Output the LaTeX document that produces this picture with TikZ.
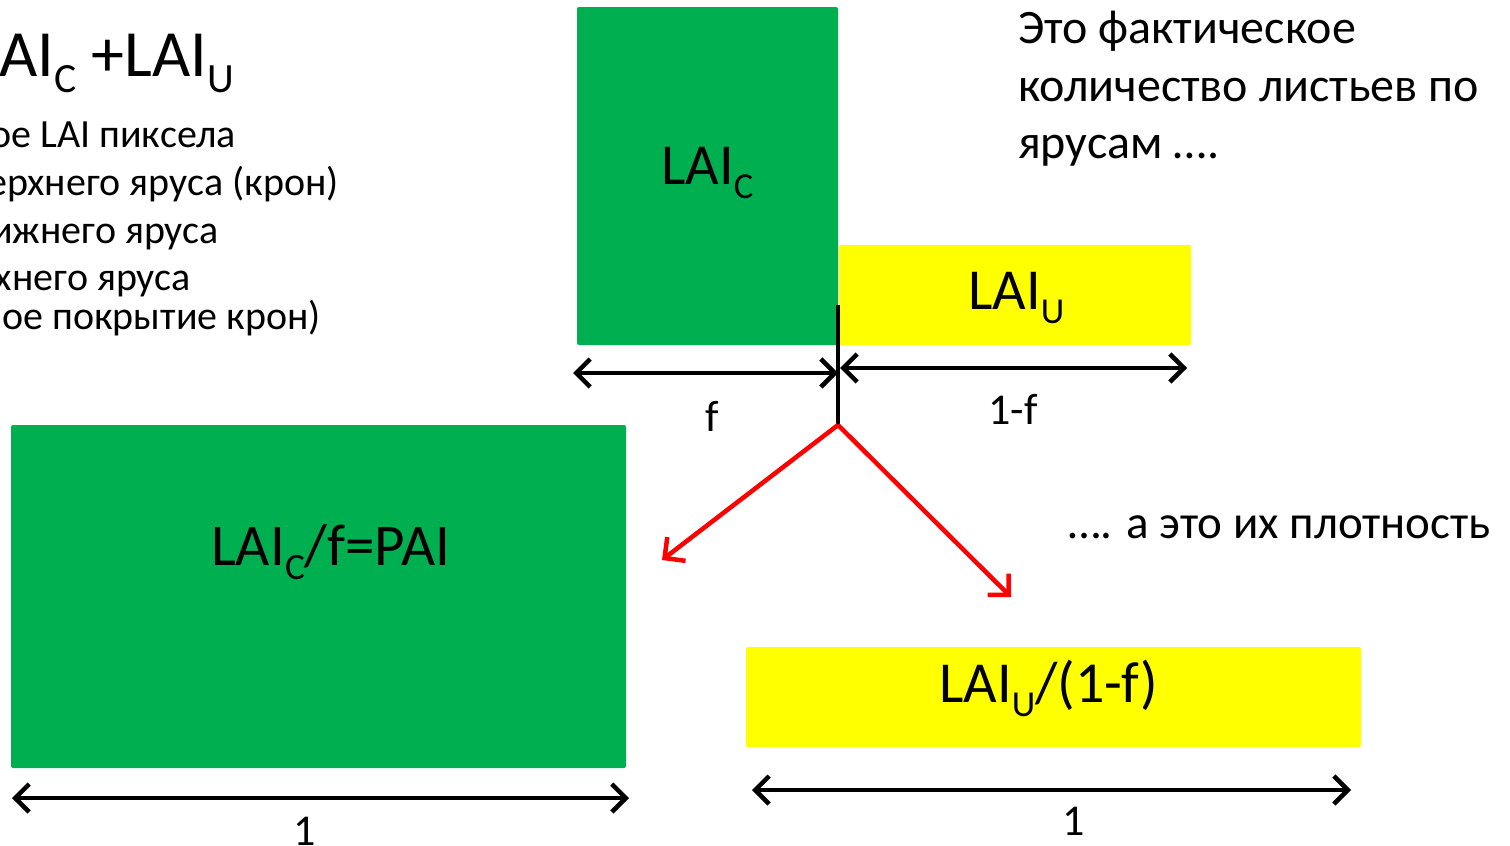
\documentclass[tikz,border=0pt]{standalone}
\usepackage{fontspec}
\setmainfont{Carlito}
\usetikzlibrary{arrows.meta}
\definecolor{pgreen}{HTML}{00B050}
\definecolor{pyellow}{HTML}{FFFF00}
\definecolor{pred}{HTML}{FF0000}
\newcommand{\lsub}[1]{\raisebox{-0.25em}{\scalebox{0.63}{#1}}}
\begin{document}
\begin{tikzpicture}[x=1pt,y=-1pt,
  box/.style={rounded corners=2pt, inner sep=0pt, outer sep=0pt, anchor=north west},
  gbox/.style={box, fill=pgreen},
  ybox/.style={box, fill=pyellow},
  biglabel/.style={anchor=base west, inner sep=0pt, font=\fontsize{58}{60}\selectfont},
  dimlabel/.style={anchor=base, inner sep=0pt, font=\fontsize{44}{48}\selectfont},
  listtext/.style={anchor=base east, inner sep=0pt, font=\fontsize{40}{44}\selectfont},
  notetext/.style={anchor=base west, inner sep=0pt, font=\fontsize{48}{52}\selectfont},
  dimarrow/.style={line width=4.5pt, {Straight Barb[length=14pt,width=28pt]}-{Straight Barb[length=14pt,width=28pt]}},
  redarrow/.style={pred, line width=4.5pt, -{Straight Barb[length=15pt,width=30pt]}}
]
\useasboundingbox (0,0) rectangle (1510,846);
\clip (0,0) rectangle (1510,846);

% boxes
\node[gbox, minimum width=261pt, minimum height=338pt] (gtop) at (577,7) {};
\node[ybox, minimum width=352pt, minimum height=100pt] (ytop) at (839,245) {};
\node[gbox, minimum width=615pt, minimum height=343pt] (gbig) at (11,425) {};
\node[ybox, minimum width=615pt, minimum height=100pt] (ybot) at (746,647) {};

% box labels
\node[biglabel] (lgtop) at (661,184) {LAI\lsub{C}};
\node[biglabel] (lytop) at (968,309) {LAI\lsub{U}};
\node[biglabel, font=\fontsize{59}{61}\selectfont] (lgbig) at (211,565) {LAI\lsub{C}/f=PAI};
\node[biglabel] (lybot) at (939,702) {LAI\lsub{U}/(1-f)};

% vertical divider and split point
\coordinate (vtop) at (838,305);
\coordinate (split) at (838,425);
\draw[line width=4pt] (vtop) -- (split);

% dimension arrows
\coordinate (fL) at (573,373);
\coordinate (fR) at (838,373);
\coordinate (uL) at (840,368);
\coordinate (uR) at (1187,368);
\coordinate (bL1) at (12,798);
\coordinate (bR1) at (629,798);
\coordinate (bL2) at (752,790);
\coordinate (bR2) at (1351,790);
\draw[dimarrow] (fL) -- (fR);
\draw[dimarrow] (uL) -- (uR);
\draw[dimarrow] (bL1) -- (bR1);
\draw[dimarrow] (bL2) -- (bR2);

\node[dimlabel] (tf) at (712,431) {f};
\node[dimlabel] (t1f) at (1013,424) {1-f};
\node[dimlabel] (t1a) at (305,845) {1};
\node[dimlabel] (t1b) at (1074,835) {1};

% red arrows
\coordinate (rl) at (662,560);
\coordinate (rr) at (1011,597);
\draw[redarrow] (split) -- (rl);
\draw[redarrow] (split) -- (rr);

% top-left text
\node[anchor=base east, inner sep=0pt, font=\fontsize{66}{70}\selectfont] (title) at (234,76) {AI\lsub{C} +LAI\lsub{U}};
\node[listtext] (li1) at (236,147) {ое LAI пиксела};
\node[listtext] (li2) at (339,195) {ерхнего яруса (крон)};
\node[listtext] (li3) at (219,243) {ижнего яруса};
\node[listtext] (li4) at (191,290) {хнего яруса};
\node[listtext] (li5) at (321,329) {ое покрытие крон)};

% right notes
\node[notetext] (n1) at (1018,43) {Это фактическое};
\node[notetext] (n2) at (1018,101) {количество листьев по};
\node[notetext] (n3) at (1018,158) {ярусам ….};
\node[notetext, font=\fontsize{47}{50}\selectfont] (n4) at (1068,538) {…. а это их плотность};
\end{tikzpicture}
\end{document}
